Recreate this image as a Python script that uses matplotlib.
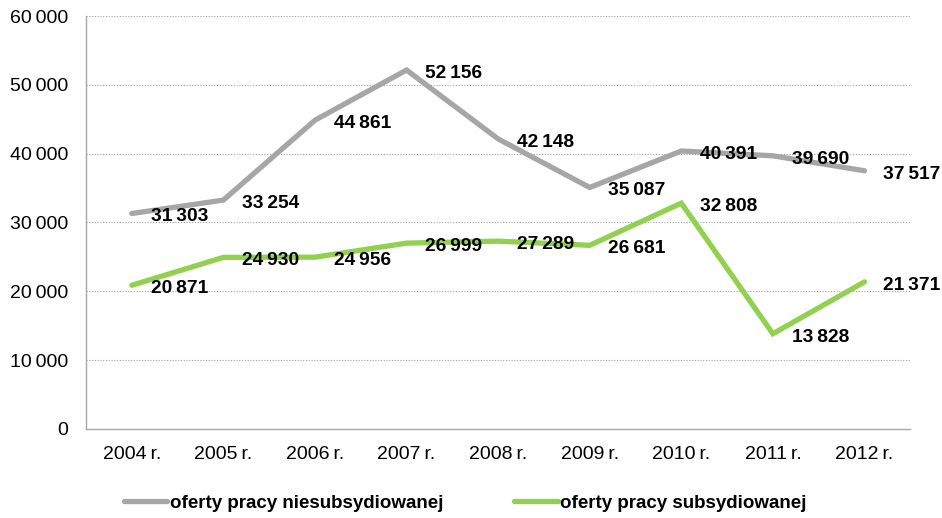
import matplotlib
matplotlib.use("Agg")
import matplotlib.pyplot as plt

years = ["2004 r.", "2005 r.", "2006 r.", "2007 r.", "2008 r.", "2009 r.", "2010 r.", "2011 r.", "2012 r."]
niesub = [31303, 33254, 44861, 52156, 42148, 35087, 40391, 39690, 37517]
sub = [20871, 24930, 24956, 26999, 27289, 26681, 32808, 13828, 21371]
series_names = ["oferty pracy niesubsydiowanej", "oferty pracy subsydiowanej"]
yticks = [0, 10000, 20000, 30000, 40000, 50000, 60000]

plt.rcParams['font.family'] = ['Liberation Sans', 'DejaVu Sans']

fig = plt.figure(figsize=(9.42, 5.18), dpi=100)
ax = fig.add_axes([0.0913, 0.172, 0.875, 0.797])

gray = "#A6A6A6"
green = "#92D050"
x = list(range(len(years)))
TS = "\u2009"

def fmt(v):
    return f"{v:,}".replace(",", TS)

ax.plot(x, niesub, color=gray, lw=3.8, solid_capstyle='round', solid_joinstyle='miter', label=series_names[0], zorder=3)
ax.plot(x, sub, color=green, lw=3.8, solid_capstyle='round', solid_joinstyle='miter', label=series_names[1], zorder=3)

for xi, v in zip(x, niesub):
    ax.annotate(fmt(v), (xi, v), xytext=(13.5, -2.5), textcoords='offset points',
                ha='left', va='center', fontsize=13.8, fontweight='bold', zorder=4)
for xi, v in zip(x, sub):
    ax.annotate(fmt(v), (xi, v), xytext=(13.5, -2.5), textcoords='offset points',
                ha='left', va='center', fontsize=13.8, fontweight='bold', zorder=4)

ax.set_xlim(-0.5, len(years) - 0.5)
ax.set_ylim(0, 60000)
ax.set_yticks(yticks)
ax.set_yticklabels([fmt(v) for v in yticks], fontsize=14)
ax.set_xticks(x)
ax.set_xticklabels([y.replace(" ", TS) for y in years], fontsize=14)
ax.tick_params(axis='both', length=0)
ax.tick_params(axis='y', pad=13)
ax.tick_params(axis='x', pad=12)

for yv in yticks[1:]:
    ax.axhline(yv, color="#A0A0A0", lw=0.8, ls=(0, (1, 1.5)), zorder=1)

for s in ['top', 'right']:
    ax.spines[s].set_visible(False)
for s in ['left', 'bottom']:
    ax.spines[s].set_color("#A6A6A6")
    ax.spines[s].set_linewidth(1.0)

leg = fig.legend(loc='center', bbox_to_anchor=(0.494, 0.028), ncol=2, frameon=False,
                 prop={'size': 13.5, 'weight': 'bold'}, handlelength=2.3, handletextpad=0.15,
                 columnspacing=3.8)

fig.savefig("out.png", dpi=100)
